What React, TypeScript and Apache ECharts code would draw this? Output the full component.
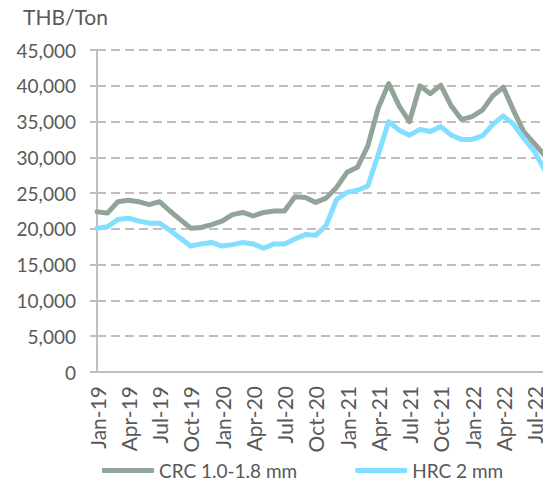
import React, { useEffect, useRef } from "react";
import * as echarts from "echarts";

const categories = [
  "Jan-19", "Feb-19", "Mar-19", "Apr-19", "May-19", "Jun-19", "Jul-19", "Aug-19", "Sep-19", "Oct-19", "Nov-19", "Dec-19",
  "Jan-20", "Feb-20", "Mar-20", "Apr-20", "May-20", "Jun-20", "Jul-20", "Aug-20", "Sep-20", "Oct-20", "Nov-20", "Dec-20",
  "Jan-21", "Feb-21", "Mar-21", "Apr-21", "May-21", "Jun-21", "Jul-21", "Aug-21", "Sep-21", "Oct-21", "Nov-21", "Dec-21",
  "Jan-22", "Feb-22", "Mar-22", "Apr-22", "May-22", "Jun-22", "Jul-22", "Aug-22",
];

const crcValues = [
  22400, 22200, 23800, 24000, 23800, 23400, 23800, 22500, 21300, 20100,
  20200, 20600, 21100, 22000, 22300, 21800, 22300, 22500, 22500, 24500,
  24400, 23700, 24300, 25800, 27900, 28600, 31600, 36900, 40300, 37200,
  35000, 40000, 38900, 40100, 37200, 35300, 35700, 36600, 38600, 39800,
  36500, 33500, 31900, 30200,
];

const hrcValues = [
  20100, 20300, 21300, 21500, 21100, 20800, 20800, 19800, 18700, 17600,
  17900, 18100, 17600, 17800, 18100, 17900, 17300, 17900, 17900, 18600,
  19200, 19100, 20500, 24100, 25100, 25400, 26000, 30400, 35000, 33800,
  33100, 33900, 33600, 34300, 33100, 32500, 32500, 33000, 34600, 35800,
  34600, 32600, 30800, 28200,
];

const seriesNames = ["CRC 1.0-1.8 mm", "HRC 2 mm"];
const yUnit = "THB/Ton";
const yMin = 0;
const yMax = 45000;
const yStep = 5000;

const FONT = "Lato, 'Open Sans', sans-serif";
const TEXT = "#595959";
const AXIS = "#BFBFBF";
const CRC_COLOR = "#92A498";
const HRC_COLOR = "#83DFFF";

export default function App() {
  const ref = useRef<HTMLDivElement>(null);

  useEffect(() => {
    if (!ref.current) return;
    const chart = echarts.init(ref.current, undefined, { renderer: "svg" });
    chart.setOption({
      animation: false,
      backgroundColor: "#ffffff",
      textStyle: { fontFamily: FONT },
      title: {
        text: yUnit,
        left: 18,
        top: 1,
        textStyle: { fontFamily: FONT, fontSize: 21, fontWeight: "normal", color: TEXT },
      },
      legend: {
        left: 97,
        top: 456,
        itemWidth: 52,
        itemHeight: 5,
        itemGap: 58,
        icon: "roundRect",
        textStyle: { fontFamily: FONT, fontSize: 19, color: TEXT },
        data: seriesNames,
      },
      grid: { left: 97, top: 50, bottom: 110, right: 0, containLabel: false },
      xAxis: {
        type: "category",
        data: categories,
        boundaryGap: false,
        axisLine: { show: true, lineStyle: { color: AXIS, width: 2 } },
        axisTick: { show: false },
        axisLabel: {
          interval: 2,
          rotate: 90,
          margin: 14,
          fontFamily: FONT,
          fontSize: 21,
          color: TEXT,
        },
        splitLine: { show: false },
      },
      yAxis: {
        type: "value",
        min: yMin,
        max: yMax,
        interval: yStep,
        axisLine: { show: true, lineStyle: { color: AXIS, width: 2 } },
        axisTick: { show: true, length: 7, lineStyle: { color: AXIS, width: 2 } },
        axisLabel: {
          margin: 21,
          fontFamily: FONT,
          fontSize: 19,
          color: TEXT,
          formatter: (v: number) => v.toLocaleString("en-US"),
        },
        splitLine: { show: true, lineStyle: { color: AXIS, width: 2, type: [9, 5] } },
      },
      series: [
        {
          name: seriesNames[0],
          type: "line",
          data: crcValues,
          showSymbol: false,
          symbol: "none",
          lineStyle: { color: CRC_COLOR, width: 5, cap: "round", join: "round" },
          itemStyle: { color: CRC_COLOR },
        },
        {
          name: seriesNames[1],
          type: "line",
          data: hrcValues,
          showSymbol: false,
          symbol: "none",
          lineStyle: { color: HRC_COLOR, width: 5, cap: "round", join: "round" },
          itemStyle: { color: HRC_COLOR },
        },
      ],
    });
    return () => chart.dispose();
  }, []);

  return (
    <div style={{ position: "absolute", left: 0, top: 0, width: 543, height: 482, overflow: "hidden", background: "#fff" }}>
      <div ref={ref} style={{ width: 545, height: 482 }} />
    </div>
  );
}
